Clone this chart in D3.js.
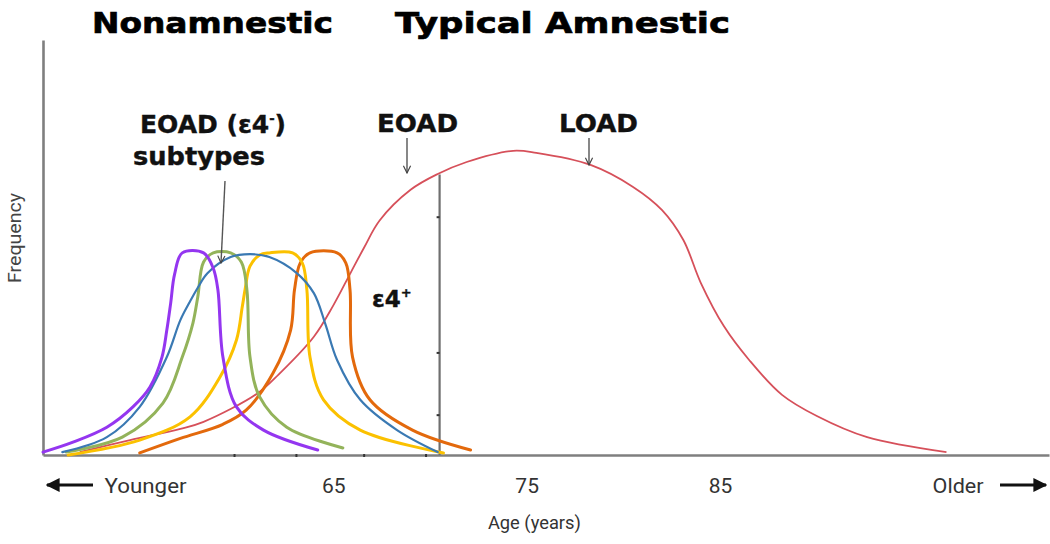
<!DOCTYPE html>
<html>
<head>
<meta charset="utf-8">
<script src="https://cdn.jsdelivr.net/npm/d3@7/dist/d3.min.js"></script>
<style>
  html, body { margin: 0; padding: 0; background: #fff; }
  svg { display: block; }
</style>
</head>
<body>
<svg id="chart" width="1050" height="544"></svg>
<script>
// ---------------- DATA ----------------
// [age (years), relative frequency]
const loadCurve = [
  [51.9, 0.7], [54.5, 3.6], [57.1, 6.3], [58.3, 8.0], [61.1, 14.9], [62.2, 19.5],
  [64.0, 28.5], [65.0, 36.0], [65.9, 43.9], [66.6, 50.0], [67.4, 56.5], [69.0, 63.9],
  [70.4, 67.7], [71.9, 70.6], [74.3, 73.3], [75.5, 72.8], [78.3, 69.9], [80.5, 64.6],
  [82.0, 59.0], [83.1, 51.8], [84.0, 41.5], [85.2, 31.0], [86.5, 22.9], [88.2, 14.5],
  [90.0, 9.4], [92.6, 4.3], [96.7, 0.7]
];
const purpleCurve = [
  [50.0, 0.7], [51.55, 3.1], [53.3, 6.7], [54.65, 11.6], [55.53, 16.4], [56.15, 23.6],
  [56.4, 30.1], [56.6, 36.6], [56.8, 43.5], [57.2, 48.7], [58.3, 48.7], [58.8, 45.0],
  [59.04, 39.8], [59.3, 23.6], [60.0, 11.6], [61.4, 6.0], [64.2, 1.2]
];
const blueCurve = [
  [51.0, 0.7], [53.3, 4.3], [55.0, 11.6], [56.4, 23.6], [57.1, 32.5], [57.6, 37.0],
  [58.0, 40.3], [58.5, 43.8], [59.7, 47.7], [60.7, 48.4], [61.7, 47.7], [63.1, 43.9],
  [64.0, 39.0], [64.6, 31.5], [65.2, 22.9], [66.4, 13.3], [68.3, 6.0], [70.4, 0.7]
];
const greenCurve = [
  [51.2, 0.7], [54.1, 4.3], [56.2, 12.5], [57.2, 23.6], [57.75, 31.8], [58.0, 38.1],
  [58.3, 46.5], [58.8, 48.7], [59.7, 48.7], [60.25, 46.5], [60.54, 39.8], [60.7, 23.6],
  [61.2, 14.0], [62.6, 6.7], [65.5, 1.7]
];
const yellowCurve = [
  [51.3, 0.0], [55.0, 3.6], [57.6, 9.2], [59.15, 18.8], [60.0, 27.7], [60.3, 35.7],
  [60.45, 40.0], [60.7, 45.5], [61.2, 48.2], [61.7, 48.7], [62.9, 48.7], [63.4, 46.3],
  [63.64, 39.8], [63.8, 23.6], [64.5, 13.3], [66.4, 6.0], [70.7, 0.5]
];
const orangeCurve = [
  [55.0, 0.5], [57.1, 4.0], [59.3, 7.4], [60.5, 10.8], [61.9, 19.8], [62.8, 30.1],
  [63.0, 39.8], [63.3, 46.3], [63.8, 48.7], [65.2, 48.7], [65.65, 46.3], [65.87, 39.8],
  [66.0, 23.6], [66.9, 13.3], [69.1, 6.0], [72.1, 1.2]
];
const tickAges = [65, 75, 85];
const tickLabels = ["65", "75", "85"];
const minorAxisAges = [59.9, 63.1, 66.6, 69.8];
const dividerMarks = [57.3, 24.6, 9.6];
const eoadCutAge = 70.5;      // EOAD / ε4+ divider
const eoadCutFreq = 67.6;
const youngerAge = 55.3, olderAge = 97.3;

// ---------------- LAYOUT ----------------
const svg = d3.select("#chart");
const x = d3.scaleLinear().domain([50, 102]).range([43, 1049]);
const y = d3.scaleLinear().domain([0, 100]).range([455, 40]);
const axisColor = "#7f7f7f";
const narrow = "'Liberation Sans Narrow', 'Arial Narrow', 'Roboto', sans-serif";

const defs = svg.append("defs");
defs.append("marker").attr("id", "openArrow").attr("viewBox", "0 0 10 10")
  .attr("refX", 9).attr("refY", 5).attr("markerWidth", 9).attr("markerHeight", 9)
  .attr("markerUnits", "userSpaceOnUse").attr("orient", "auto")
  .append("path").attr("d", "M1,1 L9,5 L1,9").attr("fill", "none")
  .attr("stroke", "#444").attr("stroke-width", 1.3);
defs.append("marker").attr("id", "solidArrow").attr("viewBox", "0 0 10 10")
  .attr("refX", 9).attr("refY", 5).attr("markerWidth", 14).attr("markerHeight", 14)
  .attr("markerUnits", "userSpaceOnUse").attr("orient", "auto")
  .append("path").attr("d", "M0,0 L10,5 L0,10 Z").attr("fill", "#111");

// axes
const xAxis = d3.axisBottom(x).tickValues(tickAges).tickFormat((d, i) => tickLabels[i])
  .tickSizeInner(0).tickSizeOuter(0).tickPadding(23);
const gx = svg.append("g").attr("transform", `translate(0,${y(0)})`).call(xAxis);
gx.select(".domain").attr("stroke", axisColor).attr("stroke-width", 2.6);
gx.selectAll("text").attr("font-family", narrow).attr("font-size", 21).attr("fill", "#333");

const yAxis = d3.axisLeft(y).tickValues([]).tickSizeOuter(0);
const gy = svg.append("g").attr("transform", `translate(${x(50)},0)`).call(yAxis);
gy.select(".domain").attr("stroke", axisColor).attr("stroke-width", 2.6);

// divider line
svg.append("line")
  .attr("x1", x(eoadCutAge)).attr("x2", x(eoadCutAge))
  .attr("y1", y(0)).attr("y2", y(eoadCutFreq))
  .attr("stroke", "#6f6f6f").attr("stroke-width", 2.2);
svg.selectAll(".dmark").data(dividerMarks).join("line").attr("class", "dmark")
  .attr("x1", x(eoadCutAge) - 3).attr("x2", x(eoadCutAge))
  .attr("y1", d => y(d)).attr("y2", d => y(d))
  .attr("stroke", "#333").attr("stroke-width", 2);
svg.selectAll(".amark").data(minorAxisAges).join("line").attr("class", "amark")
  .attr("x1", d => x(d)).attr("x2", d => x(d))
  .attr("y1", y(0) - 1).attr("y2", y(0) + 2)
  .attr("stroke", "#333").attr("stroke-width", 2);

// curves
const line = d3.line().x(d => x(d[0])).y(d => y(d[1])).curve(d3.curveCatmullRom.alpha(0.5));
svg.append("path").datum(loadCurve).attr("d", line)
  .attr("fill", "none").attr("stroke", "#d6505a").attr("stroke-width", 1.8);

const subtypes = [
  { data: orangeCurve, color: "#e3690c" },
  { data: yellowCurve, color: "#fbc100" },
  { data: greenCurve, color: "#93b35a" },
  { data: blueCurve, color: "#3a79b3", w: 2.2 },
  { data: purpleCurve, color: "#9436f0" }
];
subtypes.forEach(s => {
  svg.append("path").datum(s.data).attr("d", line)
    .attr("fill", "none").attr("stroke", s.color)
    .attr("stroke-width", s.w || 3).attr("stroke-linecap", "round");
});

// titles
const heavy = "'DejaVu Sans', 'Liberation Sans', sans-serif";
svg.append("text").attr("x", 92).attr("y", 33).text("Nonamnestic")
  .attr("font-family", heavy).attr("font-weight", "bold").attr("font-size", 29)
  .attr("stroke", "#000").attr("stroke-width", 0.7)
  .attr("textLength", 241).attr("lengthAdjust", "spacingAndGlyphs");
svg.append("text").attr("x", 395).attr("y", 33).text("Typical Amnestic")
  .attr("font-family", heavy).attr("font-weight", "bold").attr("font-size", 29)
  .attr("stroke", "#000").attr("stroke-width", 0.7)
  .attr("textLength", 335).attr("lengthAdjust", "spacingAndGlyphs");

// annotations
const ann = svg.append("g").attr("font-family", heavy).attr("font-weight", "bold")
  .attr("fill", "#111").attr("stroke", "#111").attr("stroke-width", 0.4);
const t1 = ann.append("text").attr("x", 140).attr("y", 133).attr("font-size", 25);
t1.append("tspan").text("EOAD (ε4");
t1.append("tspan").text("-").attr("font-size", 13).attr("dy", -10);
t1.append("tspan").text(")").attr("dy", 10);
ann.append("text").attr("x", 133).attr("y", 165).attr("font-size", 24).text("subtypes")
  .attr("textLength", 132).attr("lengthAdjust", "spacingAndGlyphs");
ann.append("text").attr("x", 377).attr("y", 132).attr("font-size", 24).text("EOAD")
  .attr("textLength", 81).attr("lengthAdjust", "spacingAndGlyphs");
ann.append("text").attr("x", 559).attr("y", 132).attr("font-size", 24).text("LOAD")
  .attr("textLength", 79).attr("lengthAdjust", "spacingAndGlyphs");
const t2 = ann.append("text").attr("x", 372).attr("y", 307).attr("font-size", 23);
t2.append("tspan").text("ε4");
t2.append("tspan").text("+").attr("font-size", 13).attr("dy", -10);

// annotation arrows
const arrows = [
  [225, 181, 221, 263],
  [407, 138, 407, 173],
  [589, 138, 589, 165]
];
arrows.forEach(a => {
  svg.append("line").attr("x1", a[0]).attr("y1", a[1]).attr("x2", a[2]).attr("y2", a[3])
    .attr("stroke", "#555").attr("stroke-width", 1.4).attr("marker-end", "url(#openArrow)");
});

// Younger / Older
const lbl = svg.append("g").attr("font-family", narrow).attr("font-size", 21).attr("fill", "#333");
lbl.append("text").attr("x", x(youngerAge)).attr("y", 493).attr("text-anchor", "middle").text("Younger")
  .attr("textLength", 82).attr("lengthAdjust", "spacingAndGlyphs");
lbl.append("text").attr("x", x(olderAge)).attr("y", 493).attr("text-anchor", "middle").text("Older")
  .attr("textLength", 51).attr("lengthAdjust", "spacingAndGlyphs");
svg.append("line").attr("x1", 93).attr("y1", 485).attr("x2", 47).attr("y2", 485)
  .attr("stroke", "#111").attr("stroke-width", 3).attr("marker-end", "url(#solidArrow)");
svg.append("line").attr("x1", 1000).attr("y1", 485).attr("x2", 1046).attr("y2", 485)
  .attr("stroke", "#111").attr("stroke-width", 3).attr("marker-end", "url(#solidArrow)");

// axis titles
svg.append("text").attr("x", x(75.4)).attr("y", 529).attr("text-anchor", "middle")
  .attr("font-family", narrow).attr("font-size", 18).attr("fill", "#333").text("Age (years)")
  .attr("textLength", 93).attr("lengthAdjust", "spacingAndGlyphs");
svg.append("text").attr("transform", `translate(21,238) rotate(-90)`)
  .attr("text-anchor", "middle").attr("font-family", narrow).attr("font-size", 18)
  .attr("fill", "#444").text("Frequency")
  .attr("textLength", 90).attr("lengthAdjust", "spacingAndGlyphs");
</script>
</body>
</html>
